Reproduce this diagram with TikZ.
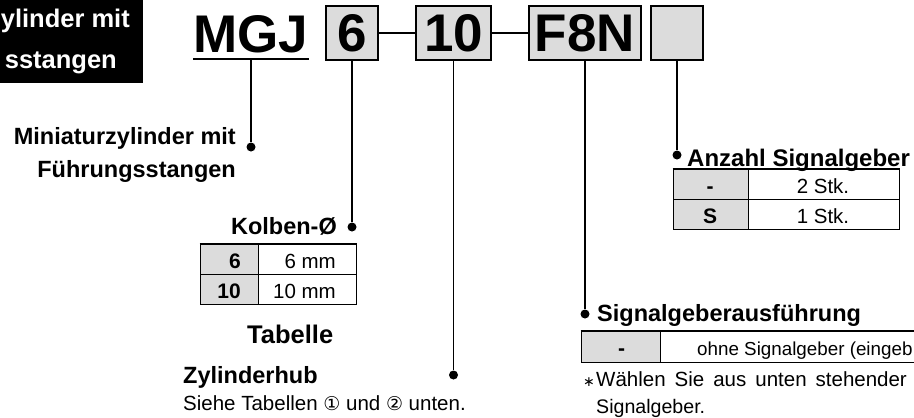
\documentclass[tikz,border=0pt]{standalone}
\usepackage{fontspec}
\setmainfont{Liberation Sans}
\newfontfamily\symfont{DejaVu Sans}
\definecolor{boxgray}{HTML}{DCDCDC}
\begin{document}
\begin{tikzpicture}[x=1pt,y=-1pt,
  big/.style={font=\fontsize{53}{60}\selectfont\bfseries, inner sep=0pt},
  title/.style={font=\fontsize{25.5}{30}\selectfont\bfseries, text=white, inner sep=0pt},
  head/.style={font=\fontsize{23.5}{28}\selectfont\bfseries, inner sep=0pt},
  reg/.style={font=\fontsize{20.5}{24}\selectfont, inner sep=0pt},
  tb/.style={font=\fontsize{21}{24}\selectfont\bfseries, inner sep=0pt},
  codebox/.style={draw, line width=2pt, fill=boxgray, minimum height=54pt, inner sep=0pt,
                  font=\fontsize{53}{60}\selectfont\bfseries},
  conn/.style={line width=1.8pt},
  dot/.style={circle, fill=black, inner sep=0pt, minimum size=9pt},
  thin/.style={line width=1pt},
  thick/.style={line width=2pt}]
\useasboundingbox (0,0) rectangle (914,418);
% title block
\fill[black] (0,0) rectangle (143,83);
\node[title, anchor=base east] (t1) at (130,27) {ylinder mit};
\node[title, anchor=base east] (t2) at (117,68) {sstangen};
% code
\node[big, anchor=base] (mgj) at (251,52) {MGJ};
\draw[thick] ([yshift=-7pt]mgj.base west) -- ([yshift=-7pt]mgj.base east);
\node[codebox, minimum width=52pt] (b6) at (352,33) {6};
\node[codebox, minimum width=75pt] (b10) at (453.5,33) {10};
\node[codebox, minimum width=112pt] (bF) at (585,33) {F8N};
\node[codebox, minimum width=52pt] (bE) at (677,33) {};
\draw[conn] (b6.east) -- (b10.west);
\draw[conn] (b10.east) -- (bF.west);
% dots
\node[dot] (d1) at (251,147) {};
\node[dot] (d2) at (352,227) {};
\node[dot] (d3) at (453.5,375) {};
\node[dot] (d4) at (585,314) {};
\node[dot] (d5) at (677,155) {};
\draw[conn] ([yshift=-7pt]mgj.base) -- (d1);
\draw[conn] (b6.south) -- (d2);
\draw[conn] (b10.south) -- (d3);
\draw[conn] (bF.south) -- (d4);
\draw[conn] (bE.south) -- (d5);
% labels
\node[head, anchor=base east] (l1a) at (236,144) {Miniaturzylinder mit};
\node[head, anchor=base east] (l1b) at (236,177) {Führungsstangen};
\node[head, anchor=base east] (l2) at (337,234) {Kolben-Ø};
\node[head, font=\fontsize{25.5}{30}\selectfont\bfseries, anchor=base west] (tab) at (247,343) {Tabelle};
\node[head, anchor=base west] (l3) at (183,383) {Zylinderhub};
\node[reg, anchor=base west] (l3b) at (183,410) {Siehe Tabellen {\symfont\fontsize{19}{24}\selectfont ①} und {\symfont\fontsize{19}{24}\selectfont ②} unten.};
\node[head, font=\fontsize{24}{28}\selectfont\bfseries, anchor=base west] (l5) at (687,166) {Anzahl Signalgeber};
\node[head, anchor=base west] (l4) at (597,321) {Signalgeberausführung};
% Kolben table
\fill[boxgray] (200,244) rectangle (258,304);
\draw[thin] (200,244) rectangle (356,304);
\draw[thin] (200,274) -- (356,274);
\draw[thin] (258,244) -- (258,304);
\draw[thick] (199.5,244) -- (356.5,244);
\node[tb, anchor=base east] (k1) at (241,268) {6};
\node[tb, anchor=base east] (k2) at (241,298) {10};
\node[reg, anchor=base east] (k3) at (336,268) {6 mm};
\node[reg, anchor=base east] (k4) at (336,298) {10 mm};
% Anzahl table
\fill[boxgray] (673,169) rectangle (748.5,229);
\draw[thin] (673,169) rectangle (899,229);
\draw[thin] (673,199) -- (899,199);
\draw[thin] (748.5,169) -- (748.5,229);
\draw[thick] (672.5,169) -- (899.5,169);
\node[tb, anchor=base] (a1) at (710,193.5) {-};
\node[tb, anchor=base] (a2) at (710,223) {S};
\node[reg, anchor=base] (a3) at (823,193.5) {2 Stk.};
\node[reg, anchor=base] (a4) at (823,223) {1 Stk.};
% Signalgeber table
\fill[boxgray] (581,331) rectangle (660.5,362);
\draw[thin] (914,362) -- (581,362) -- (581,331);
\draw[thin] (660.5,331) -- (660.5,362);
\draw[thick] (580.5,331) -- (914,331);
\node[tb, anchor=base] (s1) at (621.5,355.5) {-};
\node[reg, font=\fontsize{18.8}{22}\selectfont, anchor=base west] (s2) at (697,355) {ohne Signalgeber (eingeb};
% note
\node[reg, anchor=base west] (n0) at (583,386) {\symfont\fontsize{14}{16}\selectfont ∗};
\node[reg, anchor=base west] (n1) at (596,386) {\spaceskip=9pt Wählen Sie aus unten stehender};
\node[reg, font=\fontsize{19.6}{24}\selectfont, anchor=base west] (n2) at (596,413) {Signalgeber.};
\end{tikzpicture}
\end{document}
